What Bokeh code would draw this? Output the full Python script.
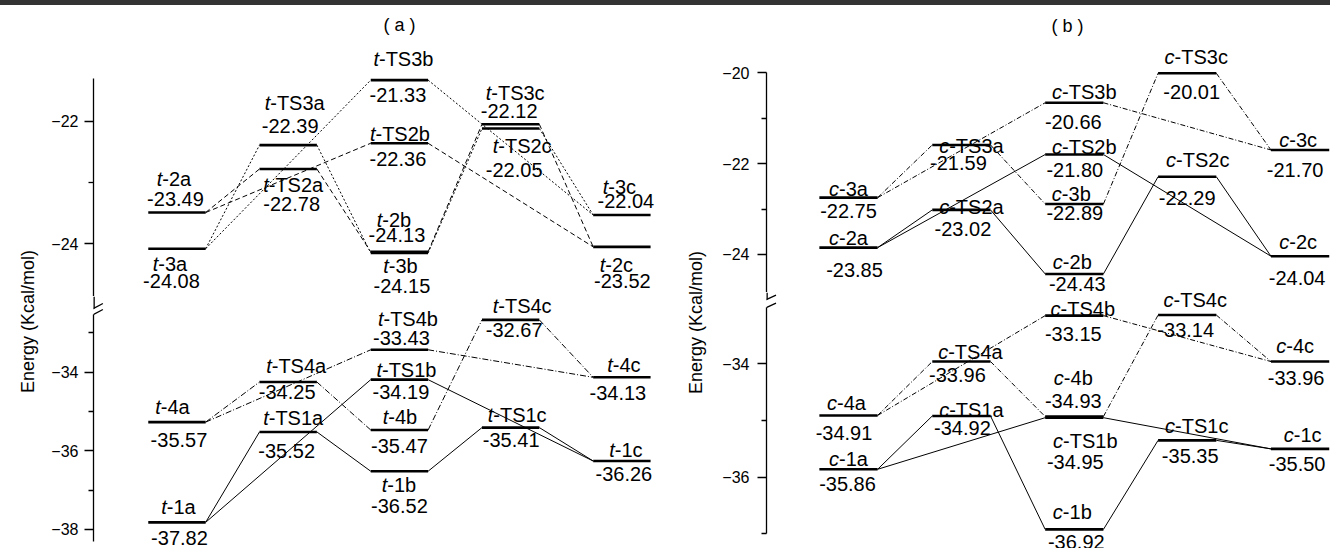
import math
from bokeh.plotting import figure
from bokeh.models import ColumnDataSource, Range1d, FixedTicker, Arrow, Div
from bokeh.layouts import row, column
from bokeh.embed import file_html
from bokeh.resources import INLINE
from bokeh.core.properties import value

FONT = "Liberation Sans"

# ---------------- data ----------------
STAGES = ["{n}a", "TS{n}a", "TS{n}b", "{n}b", "TS{n}c", "{n}c"]
STAGE_COL = [0, 1, 2, 2, 3, 4]
LINKS = [(0, 1), (1, 3), (3, 4), (4, 5), (0, 2), (2, 5)]

# panel (a), trans: level energies as drawn, printed values
T1_E = [-37.82, -35.52, -34.19, -36.52, -35.41, -36.26]
T1_TXT = ["-37.82", "-35.52", "-34.19", "-36.52", "-35.41", "-36.26"]
T2_E = [-23.49, -22.78, -22.36, -24.13, -22.05, -24.05]
T2_TXT = ["-23.49", "-22.78", "-22.36", "-24.13", "-22.05", "-23.52"]
T3_E = [-24.08, -22.39, -21.33, -24.15, -22.12, -23.53]
T3_TXT = ["-24.08", "-22.39", "-21.33", "-24.15", "-22.12", "-22.04"]
T4_E = [-35.27, -34.25, -33.43, -35.47, -32.67, -34.13]
T4_TXT = ["-35.57", "-34.25", "-33.43", "-35.47", "-32.67", "-34.13"]

# panel (b), cis
C1_E = [-35.86, -34.92, -34.95, -36.92, -35.35, -35.50]
C1_TXT = ["-35.86", "-34.92", "-34.95", "-36.92", "-35.35", "-35.50"]
C2_E = [-23.85, -23.02, -21.80, -24.43, -22.29, -24.04]
C2_TXT = ["-23.85", "-23.02", "-21.80", "-24.43", "-22.29", "-24.04"]
C3_E = [-22.75, -21.59, -20.66, -22.89, -20.01, -21.70]
C3_TXT = ["-22.75", "-21.59", "-20.66", "-22.89", "-20.01", "-21.70"]
C4_E = [-34.91, -33.96, -33.15, -34.93, -33.14, -33.96]
C4_TXT = ["-34.91", "-33.96", "-33.15", "-34.93", "-33.14", "-33.96"]

AXIS_LABEL = "Energy (Kcal/mol)"
TITLE_A = "( a )"
TITLE_B = "( b )"

A_UP_TICKS, A_UP_MINOR = [-24, -22], [-23]
A_LO_TICKS, A_LO_MINOR = [-38, -36, -34], [-37, -35, -33]
B_UP_TICKS, B_UP_MINOR = [-24, -22, -20], [-23, -21]
B_LO_TICKS, B_LO_MINOR = [-36, -34], [-37, -35]

# ---------------- layout (label offsets in px: name dx, name dy, value dx, value dy) ----------------
OFF_T1 = [(1.5, -8.3, 2.5, 22.7), (5, -6.7, -1.5, 25.6), (7, -2.3, 1.5, 19.3),
          (-0.5, 21, 0, 41.6), (6.5, -6, 0.5, 19), (4, -4.4, 2, 20)]
OFF_T2 = [(-3, -26.5, -1.5, -6.5), (5, 23.2, 3.5, 42.2), (0.5, -2.3, -1.5, 22.7),
          (-5.5, -25, -2.5, -10), (11.5, 28.7, 3.5, 52.7), (-5.5, 24.7, 0.5, 41.3)]
OFF_T3 = [(-7, 22.4, -5.5, 39.7), (6.5, -35, 2, -12.3), (4, -14, -1.5, 21.7),
          (1, 20, 2.5, 40), (4.5, -28.4, -1.5, -10.1), (-2.5, -21, 4, -6.5)]
OFF_T4 = [(-4.5, -8.4, 2, 25), (8, -9.3, -1, 17.3), (8.5, -24, 2, -5),
          (0.5, -5.7, 0, 22.6), (11.5, -6.6, 3.5, 17.4), (2, -5.6, -4, 22.7)]
OFF_C1 = [(0, -3.3, -1, 21.7), (10, 0.7, 1, 19), (11, 30, 1, 51.6),
          (-2, -10, 2, 19.7), (9.5, -7.7, 3, 22.3), (2.5, -6.6, -3, 21.7)]
OFF_C2 = [(0, -2.3, 6, 29.4), (10, 4, 1.5, 25.7), (10, -1, 0.5, 22.4),
          (-2, -5, 3, 17.4), (10.5, -10, 0, 28.3), (-2, -7.7, -3, 29)]
OFF_C3 = [(0, -1.6, 0, 20), (10, 7.7, -3, 25), (10, -3.3, -1, 26.7),
          (-3, -2.7, 0.5, 15.6), (9, -9, 4.5, 26), (-2, -3.3, -5, 26.7)]
OFF_C4 = [(-2, -5, -4.5, 25), (9, -2.7, -4, 20.7), (8.5, 0.7, -1, 25.7),
          (-1, -31.7, -1, -8.4), (8, -7.6, -1.5, 22.4), (-5, -8.3, -4, 23.3)]

HW = 0.258
NAME_FS = 20
BASE_FIX = -7.0   # text anchor correction (px)
BAR = "#333333"
ADV = {'t': 278, 'c': 500, '-': 333, 'T': 611, 'S': 667, 'a': 556, 'b': 556,
       '1': 556, '2': 556, '3': 556, '4': 556}


def text_width(s, fs):
    return sum(ADV.get(ch, 556) for ch in s) * fs / 1000.0


def section(series, xr, yr, w, h, mbl, mbr, ticks, minor, bounds, standoff):
    p = figure(width=w, height=h, x_range=xr, y_range=yr, output_backend="svg",
               toolbar_location=None, x_axis_location=None, y_axis_location="left",
               min_border_left=mbl, min_border_right=mbr, min_border_top=0,
               min_border_bottom=0, outline_line_color=None)
    p.grid.visible = False
    ax = p.yaxis[0]
    ax.ticker = FixedTicker(ticks=ticks, minor_ticks=minor)
    ax.bounds = bounds
    ax.axis_line_width = 1.3
    ax.major_tick_line_width = 1.3
    ax.minor_tick_line_width = 1.3
    ax.major_tick_in = 0
    ax.major_tick_out = 9
    ax.minor_tick_in = 0
    ax.minor_tick_out = 5
    ax.major_label_standoff = standoff
    ax.major_label_text_font = FONT
    ax.major_label_text_font_size = "16px"
    ax.major_label_text_color = "black"
    for prefix, n, E, TXT, OFF, dash in series:
        rest = ["-" + s.format(n=n) for s in STAGES]
        wp = text_width(prefix, NAME_FS)
        split = [o[0] - (wp + text_width(r, NAME_FS)) / 2 + wp for o, r in zip(OFF, rest)]
        src = ColumnDataSource(dict(
            xc=STAGE_COL, x0=[c - HW for c in STAGE_COL], x1=[c + HW for c in STAGE_COL],
            e=E, pre=[prefix] * 6, rest=rest, val=TXT, sx=split,
            dyn=[o[1] + BASE_FIX for o in OFF], dxv=[o[2] for o in OFF],
            dyv=[o[3] + BASE_FIX for o in OFF]))
        lk = ColumnDataSource(dict(
            xa=[STAGE_COL[a] + HW for a, b in LINKS], ya=[E[a] for a, b in LINKS],
            xb=[STAGE_COL[b] - HW for a, b in LINKS], yb=[E[b] for a, b in LINKS]))
        p.segment("xa", "ya", "xb", "yb", source=lk, line_color="black",
                  line_width=1, line_dash=dash)
        p.segment("x0", "e", "x1", "e", source=src, line_color="black", line_width=2.6)
        common = dict(source=src, text_baseline="alphabetic", text_font=value(FONT),
                      text_font_size="20px", text_color="black")
        p.text(x="xc", y="e", text="pre", x_offset="sx", y_offset="dyn",
               text_align="right", text_font_style="italic", **common)
        p.text(x="xc", y="e", text="rest", x_offset="sx", y_offset="dyn",
               text_align="left", **common)
        p.text(x="xc", y="e", text="val", x_offset="dxv", y_offset="dyv",
               text_align="center", **common)
    return p


def add_break(p, x0, dx, tail, marks, dy):
    p.add_layout(Arrow(x_start=x0, y_start=tail[0], x_end=x0, y_end=tail[1],
                       start=None, end=None, line_width=2.6, line_color="black"))
    for m in marks:
        p.add_layout(Arrow(x_start=x0 - dx, y_start=m - dy, x_end=x0 + dx, y_end=m + dy,
                           start=None, end=None, line_width=1.3, line_color="black"))


def label_fig(w, h, x, y):
    p = figure(width=w, height=h, x_range=Range1d(0, w), y_range=Range1d(0, h),
               output_backend="svg", toolbar_location=None, x_axis_location=None,
               y_axis_location=None, min_border=0, outline_line_color=None)
    p.grid.visible = False
    p.text(x=[x], y=[y], text=[AXIS_LABEL], angle=math.pi / 2, text_align="center",
           text_baseline="middle", text_font=value(FONT), text_font_size="18px",
           text_color="black")
    return p


# ---- panel (a) ----
XA = Range1d(-0.7504, 4.3472)
upA = section([("t", 2, T2_E, T2_TXT, OFF_T2, "5 3"), ("t", 3, T3_E, T3_TXT, OFF_T3, "2 2")],
              XA, Range1d(-24.860, -20.1126), 617, 291, 38, 5,
              A_UP_TICKS, A_UP_MINOR, (-24.860, -21.30), 6)
upA.text(x=[2.0], y=[-20.532], text=[TITLE_A], y_offset=-6, text_align="center",
         text_baseline="alphabetic", text_font=value(FONT), text_font_size="18px",
         text_color="black")
loA = section([("t", 1, T1_E, T1_TXT, OFF_T1, "solid"), ("t", 4, T4_E, T4_TXT, OFF_T4, "6 2 1 2")],
              XA, Range1d(-38.486, -32.074), 617, 252, 38, 5,
              A_LO_TICKS, A_LO_MINOR, (-38.308, -32.532), 6)
add_break(loA, -0.7504, 0.0844, (-32.074, -32.379), [-32.379, -32.532], 0.127)

# ---- panel (b) ----
XB = Range1d(-0.7263, 4.2692)
upB = section([("c", 2, C2_E, C2_TXT, OFF_C2, "solid"), ("c", 3, C3_E, C3_TXT, OFF_C3, "5 2 1 2")],
              XB, Range1d(-24.839, -18.518), 615, 287, 51, 0,
              B_UP_TICKS, B_UP_MINOR, (-24.839, -20.0), 8)
upB.text(x=[1.94], y=[-19.106], text=[TITLE_B], y_offset=-6, text_align="center",
         text_baseline="alphabetic", text_font=value(FONT), text_font_size="18px",
         text_color="black")
loB = section([("c", 1, C1_E, C1_TXT, OFF_C1, "solid"), ("c", 4, C4_E, C4_TXT, OFF_C4, "5 2 1 2")],
              XB, Range1d(-37.257, -32.742), 615, 256, 51, 0,
              B_LO_TICKS, B_LO_MINOR, (-37.0, -33.007), 8)
add_break(loB, -0.7263, 0.0841, (-32.742, -32.866), [-32.866, -33.007], 0.079)

LA = label_fig(48, 543, 27, 227)
LB = label_fig(50, 543, 30, 226)

bar = Div(text="", width=1330, height=5, margin=0,
          styles={"background-color": BAR, "padding": "0", "margin": "0"})

layout = column(bar, row(LA, column(upA, loA), LB, column(upB, loB)))
open("out.html", "w").write(file_html(layout, INLINE))
